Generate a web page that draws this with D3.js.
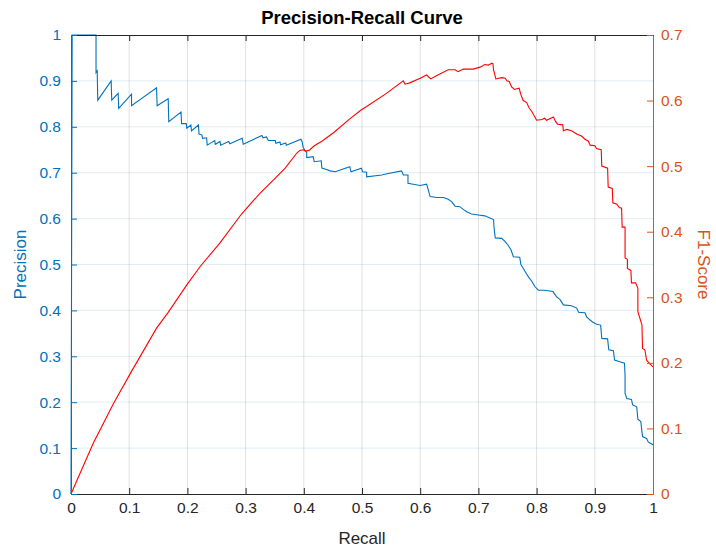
<!DOCTYPE html>
<html>
<head>
<meta charset="utf-8">
<script src="https://cdn.jsdelivr.net/npm/d3@7"></script>
<style>
  html, body { margin: 0; padding: 0; background: #fff; }
  svg { display: block; font-family: "Liberation Sans", Arial, Helvetica, sans-serif; }
</style>
</head>
<body>
<svg id="chart" width="716" height="552"></svg>
<script>
// Precision as a function of recall (staircase PR curve)
const prRecall = [0,0.002,0.043,0.043,0.045,0.046,0.069,0.070,0.081,0.082,0.104,0.104,0.147,0.148,0.167,0.168,0.189,0.190,0.198,0.199,0.206,0.207,0.219,0.220,0.225,0.226,0.233,0.234,0.247,0.248,0.256,0.257,0.271,0.273,0.294,0.296,0.328,0.330,0.336,0.339,0.351,0.352,0.359,0.360,0.369,0.370,0.395,0.397,0.399,0.402,0.405,0.405,0.416,0.418,0.430,0.431,0.439,0.445,0.454,0.479,0.481,0.499,0.501,0.508,0.508,0.534,0.541,0.568,0.571,0.579,0.579,0.588,0.600,0.611,0.614,0.617,0.628,0.640,0.648,0.654,0.660,0.668,0.674,0.680,0.688,0.700,0.711,0.726,0.727,0.729,0.740,0.746,0.751,0.756,0.760,0.771,0.773,0.777,0.782,0.786,0.792,0.797,0.803,0.814,0.828,0.834,0.840,0.846,0.860,0.869,0.872,0.883,0.886,0.892,0.897,0.903,0.910,0.912,0.922,0.924,0.932,0.934,0.943,0.951,0.952,0.952,0.955,0.963,0.965,0.972,0.974,0.979,0.982,0.989,0.992,0.998,1.0];
const precision = [0,1.0,1.0,0.918,0.922,0.858,0.900,0.858,0.873,0.840,0.871,0.846,0.885,0.846,0.861,0.811,0.832,0.807,0.807,0.797,0.804,0.791,0.804,0.784,0.782,0.775,0.776,0.760,0.770,0.762,0.768,0.760,0.768,0.763,0.775,0.762,0.781,0.776,0.778,0.770,0.770,0.764,0.767,0.761,0.765,0.760,0.773,0.768,0.755,0.749,0.744,0.733,0.735,0.724,0.726,0.710,0.707,0.704,0.702,0.713,0.702,0.710,0.702,0.701,0.691,0.695,0.697,0.704,0.695,0.695,0.677,0.675,0.672,0.675,0.662,0.648,0.646,0.646,0.642,0.637,0.627,0.626,0.620,0.615,0.610,0.608,0.606,0.598,0.579,0.558,0.557,0.550,0.542,0.532,0.517,0.516,0.500,0.492,0.481,0.473,0.463,0.452,0.444,0.444,0.441,0.430,0.424,0.412,0.410,0.405,0.396,0.395,0.386,0.379,0.374,0.370,0.368,0.339,0.338,0.314,0.312,0.292,0.288,0.285,0.259,0.219,0.208,0.206,0.194,0.190,0.163,0.158,0.125,0.121,0.113,0.109,0.107];

// F1-score as a function of recall
const f1Recall = [0,0.038,0.073,0.104,0.147,0.167,0.199,0.222,0.256,0.293,0.325,0.348,0.368,0.388,0.393,0.399,0.403,0.409,0.418,0.431,0.451,0.479,0.499,0.508,0.542,0.571,0.574,0.582,0.600,0.611,0.618,0.628,0.648,0.660,0.665,0.674,0.691,0.703,0.711,0.717,0.723,0.725,0.726,0.730,0.740,0.746,0.749,0.753,0.757,0.762,0.766,0.770,0.773,0.777,0.783,0.787,0.792,0.797,0.800,0.809,0.814,0.817,0.829,0.832,0.836,0.845,0.846,0.852,0.860,0.869,0.877,0.883,0.889,0.892,0.900,0.903,0.911,0.912,0.922,0.923,0.930,0.931,0.938,0.942,0.946,0.947,0.952,0.952,0.956,0.956,0.962,0.963,0.970,0.974,0.974,0.981,0.982,0.986,0.989,0.995,1.0];
const f1Score = [0,0.077,0.138,0.187,0.253,0.277,0.319,0.347,0.383,0.427,0.459,0.479,0.497,0.520,0.524,0.525,0.523,0.524,0.531,0.538,0.551,0.572,0.586,0.591,0.611,0.630,0.625,0.627,0.634,0.639,0.633,0.638,0.647,0.647,0.644,0.648,0.648,0.651,0.655,0.654,0.657,0.656,0.647,0.633,0.635,0.634,0.630,0.629,0.621,0.617,0.618,0.619,0.609,0.600,0.597,0.589,0.583,0.575,0.570,0.571,0.573,0.570,0.575,0.569,0.564,0.563,0.554,0.556,0.554,0.549,0.546,0.541,0.538,0.532,0.531,0.527,0.525,0.500,0.497,0.468,0.466,0.444,0.442,0.437,0.436,0.407,0.407,0.360,0.358,0.344,0.341,0.322,0.322,0.314,0.278,0.258,0.222,0.220,0.204,0.198,0.194];

// Tick values
const recallTicks = [0,0.1,0.2,0.3,0.4,0.5,0.6,0.7,0.8,0.9,1];
const precisionTicks = [0,0.1,0.2,0.3,0.4,0.5,0.6,0.7,0.8,0.9,1];
const f1Ticks = [0,0.1,0.2,0.3,0.4,0.5,0.6,0.7];

const C_LEFT = "#0072BD", C_RIGHT = "#D95319", C_AXIS = "#262626";
const m = { left: 71, top: 35, right: 653, bottom: 494 };
const fmt = d => d3.format("~g")(d);

const svg = d3.select("#chart");
const x = d3.scaleLinear().domain([0, 1]).range([m.left, m.right]);
const yL = d3.scaleLinear().domain([0, 1]).range([m.bottom, m.top]);
const yR = d3.scaleLinear().domain([0, 0.7]).range([m.bottom, m.top]);

// grid
const grid = svg.append("g");
grid.selectAll("line.vx").data(recallTicks.slice(1, -1)).join("line")
  .attr("x1", d => x(d)).attr("x2", d => x(d))
  .attr("y1", m.top).attr("y2", m.bottom)
  .attr("stroke", C_AXIS).attr("stroke-opacity", 0.14).attr("stroke-width", 1);
grid.selectAll("line.hy").data(precisionTicks.slice(1, -1)).join("line")
  .attr("x1", m.left).attr("x2", m.right)
  .attr("y1", d => yL(d)).attr("y2", d => yL(d))
  .attr("stroke", C_LEFT).attr("stroke-opacity", 0.13).attr("stroke-width", 1);

// curves
const prPts = prRecall.map((r, i) => [r, precision[i]]);
const f1Pts = f1Recall.map((r, i) => [r, f1Score[i]]);
svg.append("path").datum(prPts)
  .attr("fill", "none").attr("stroke", C_LEFT).attr("stroke-width", 1.1)
  .attr("d", d3.line().x(d => x(d[0])).y(d => yL(d[1])));
svg.append("path").datum(f1Pts)
  .attr("fill", "none").attr("stroke", "#FF0000").attr("stroke-width", 1.1)
  .attr("d", d3.line().x(d => x(d[0])).y(d => yR(d[1])));

// axes
function styleAxis(g, color) {
  g.selectAll("path.domain").attr("stroke", color);
  g.selectAll(".tick line").attr("stroke", color);
  g.selectAll(".tick text").attr("fill", color).style("font-size", "15.5px")
    .style("font-family", '"Liberation Sans", Arial, Helvetica, sans-serif');
}
const gTop = svg.append("g").attr("transform", `translate(0,${m.top})`)
  .call(d3.axisTop(x).tickValues(recallTicks).tickSize(-6).tickSizeOuter(0).tickFormat(""));
styleAxis(gTop, C_AXIS);
const gBottom = svg.append("g").attr("transform", `translate(0,${m.bottom})`)
  .call(d3.axisBottom(x).tickValues(recallTicks).tickSize(-6).tickSizeOuter(0).tickPadding(8).tickFormat(fmt));
styleAxis(gBottom, C_AXIS);
const gLeft = svg.append("g").attr("transform", `translate(${m.left},0)`)
  .call(d3.axisLeft(yL).tickValues(precisionTicks).tickSize(-6).tickSizeOuter(0).tickPadding(10).tickFormat(fmt));
styleAxis(gLeft, C_LEFT);
const gRight = svg.append("g").attr("transform", `translate(${m.right},0)`)
  .call(d3.axisRight(yR).tickValues(f1Ticks).tickSize(-6).tickSizeOuter(0).tickPadding(8).tickFormat(fmt));
styleAxis(gRight, C_RIGHT);
svg.selectAll("path.domain").attr("stroke-width", 1);

// labels
svg.append("text").attr("x", (m.left + m.right) / 2).attr("y", 24)
  .attr("text-anchor", "middle").attr("font-weight", "bold").attr("font-size", 18.5)
  .attr("fill", "#000").text("Precision-Recall Curve");
svg.append("text").attr("x", (m.left + m.right) / 2).attr("y", 544)
  .attr("text-anchor", "middle").attr("font-size", 17).attr("fill", C_AXIS).text("Recall");
svg.append("text").attr("transform", `translate(26,${(m.top + m.bottom) / 2}) rotate(-90)`)
  .attr("text-anchor", "middle").attr("font-size", 17).attr("fill", C_LEFT).text("Precision");
svg.append("text").attr("transform", `translate(698,${(m.top + m.bottom) / 2}) rotate(90)`)
  .attr("text-anchor", "middle").attr("font-size", 17).attr("fill", C_RIGHT).text("F1-Score");
</script>
</body>
</html>
